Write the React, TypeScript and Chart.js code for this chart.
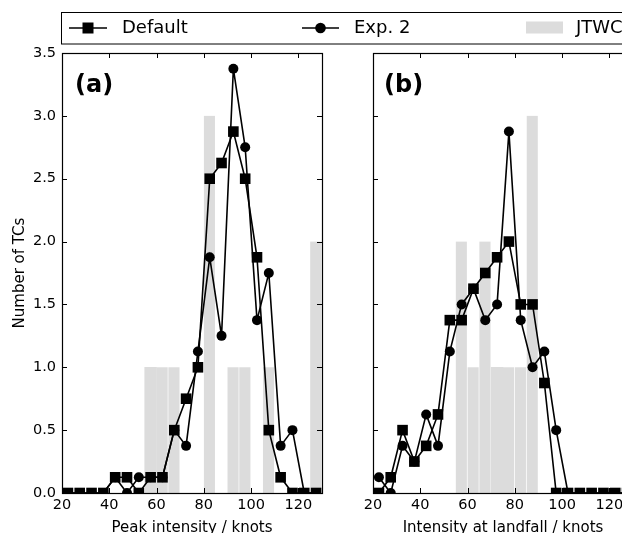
import React, { useEffect, useRef } from 'react';
import { Chart, registerables } from 'chart.js';

Chart.register(...registerables);

// ---------------- data ----------------
const binCenters = [22.5, 27.5, 32.5, 37.5, 42.5, 47.5, 52.5, 57.5, 62.5, 67.5, 72.5, 77.5, 82.5, 87.5, 92.5, 97.5, 102.5, 107.5, 112.5, 117.5, 122.5, 127.5];

const peakDefault = [0, 0, 0, 0, 0.125, 0.125, 0, 0.125, 0.125, 0.5, 0.75, 1.0, 2.5, 2.625, 2.875, 2.5, 1.875, 0.5, 0.125, 0, 0, 0];
const peakExp2 = [0, 0, 0, 0, 0.125, 0, 0.125, 0.125, 0.125, 0.5, 0.375, 1.125, 1.875, 1.25, 3.375, 2.75, 1.375, 1.75, 0.375, 0.5, 0, 0];
const peakJtwc = [0, 0, 0, 0, 0, 0, 0, 1, 1, 1, 0, 0, 3, 0, 1, 1, 0, 1, 0, 0, 0, 2];
const peakJoinedBins = [57.5];

const landDefault = [0, 0.125, 0.5, 0.25, 0.375, 0.625, 1.375, 1.375, 1.625, 1.75, 1.875, 2.0, 1.5, 1.5, 0.875, 0, 0, 0, 0, 0, 0, 0];
const landExp2 = [0.125, 0, 0.375, 0.25, 0.625, 0.375, 1.125, 1.5, 1.625, 1.375, 1.5, 2.875, 1.375, 1.0, 1.125, 0.5, 0, 0, 0, 0, 0, 0];
const landJtwc = [0, 0, 0, 0, 0, 0, 0, 2, 1, 2, 1, 1, 1, 3, 0, 0, 0, 0, 0, 0, 0, 0];
const landJoinedBins = [72.5];

const xTickValues = [20, 40, 60, 80, 100, 120];
const yTickValues = [0, 0.5, 1.0, 1.5, 2.0, 2.5, 3.0, 3.5];

const seriesNames = ['Default', 'Exp. 2', 'JTWC'];
const panelLabels = ['(a)', '(b)'];
const xTitles = ['Peak intensity / knots', 'Intensity at landfall / knots'];
const yTitle = 'Number of TCs';

// ---------------- styles ----------------
const FONT = "'DejaVu Sans', sans-serif";
const GREY = '#dcdcdc';
const CANVAS_W = 650;
const CANVAS_H = 545;

const framePlugin = {
  id: 'frameTicks',
  afterDatasetsDraw(chart: any) {
    const { ctx, chartArea } = chart;
    const { left, right, top, bottom } = chartArea;
    const xs = chart.scales.x;
    const ys = chart.scales.y;
    const tl = 5;
    ctx.save();
    ctx.strokeStyle = '#000';
    ctx.lineWidth = 1;
    ctx.beginPath();
    xs.ticks.forEach((t: any) => {
      const p = Math.round(xs.getPixelForValue(t.value)) + 0.5;
      ctx.moveTo(p, bottom);
      ctx.lineTo(p, bottom - tl);
      ctx.moveTo(p, top);
      ctx.lineTo(p, top + tl);
    });
    ys.ticks.forEach((t: any) => {
      const p = Math.round(ys.getPixelForValue(t.value)) + 0.5;
      ctx.moveTo(left, p);
      ctx.lineTo(left + tl, p);
      ctx.moveTo(right, p);
      ctx.lineTo(right - tl, p);
    });
    ctx.stroke();
    ctx.lineWidth = 1.2;
    ctx.strokeRect(Math.round(left) + 0.5, Math.round(top) + 0.5, Math.round(right - left), Math.round(bottom - top));
    ctx.restore();
  },
  afterDraw(chart: any, _args: any, opts: any) {
    const { ctx, chartArea } = chart;
    if (opts && opts.label) {
      ctx.save();
      ctx.fillStyle = '#000';
      ctx.font = `bold 24px ${FONT}`;
      ctx.textAlign = 'left';
      ctx.textBaseline = 'alphabetic';
      ctx.fillText(opts.label, chartArea.left + opts.dx, chartArea.top + 39);
      ctx.restore();
    }
    if (opts && opts.legend) {
      ctx.save();
      ctx.strokeStyle = '#000';
      ctx.lineWidth = 1;
      ctx.strokeRect(61.5, 12.5, 700, 31.5);
      const cy = 28;
      ctx.font = `18px ${FONT}`;
      ctx.textBaseline = 'middle';
      ctx.fillStyle = '#000';
      ctx.lineWidth = 1.6;
      ctx.beginPath();
      ctx.moveTo(69, cy);
      ctx.lineTo(107, cy);
      ctx.moveTo(302, cy);
      ctx.lineTo(339, cy);
      ctx.stroke();
      ctx.fillRect(88 - 5.5, cy - 5.5, 11, 11);
      ctx.beginPath();
      ctx.arc(320.5, cy, 5.3, 0, Math.PI * 2);
      ctx.fill();
      ctx.fillStyle = GREY;
      ctx.fillRect(526, 21.5, 37, 12);
      ctx.fillStyle = '#000';
      ctx.fillText(seriesNames[0], 122, cy + 0.5);
      ctx.fillText(seriesNames[1], 354, cy + 0.5);
      ctx.fillText(seriesNames[2], 576, cy + 0.5);
      ctx.restore();
    }
  },
};

function makeConfig(panel: number): any {
  const def = panel === 0 ? peakDefault : landDefault;
  const exp = panel === 0 ? peakExp2 : landExp2;
  const jt = panel === 0 ? peakJtwc : landJtwc;
  const joined = panel === 0 ? peakJoinedBins : landJoinedBins;
  const pts = (arr: number[]) => binCenters.map((x, i) => ({ x, y: arr[i] }));
  const padLeft = panel === 0 ? 0 : 373;
  const padRight = panel === 0 ? CANVAS_W - 322 : CANVAS_W - 633;

  return {
    type: 'line',
    data: {
      datasets: [
        {
          type: 'line',
          label: seriesNames[0],
          data: pts(def),
          borderColor: '#000',
          backgroundColor: '#000',
          borderWidth: 1.6,
          pointStyle: 'rect',
          pointRadius: 7.5,
          pointBorderWidth: 0,
          pointBackgroundColor: '#000',
          tension: 0,
          order: 1,
        },
        {
          type: 'line',
          label: seriesNames[1],
          data: pts(exp),
          borderColor: '#000',
          backgroundColor: '#000',
          borderWidth: 1.6,
          pointStyle: 'circle',
          pointRadius: 5,
          pointBorderWidth: 0,
          pointBackgroundColor: '#000',
          tension: 0,
          order: 2,
        },
        {
          type: 'bar',
          label: seriesNames[2],
          data: pts(jt),
          backgroundColor: GREY,
          borderColor: '#ffffff',
          borderWidth: (c: any) => ({
            top: 0,
            left: 0,
            bottom: 0,
            right: joined.includes(binCenters[c.dataIndex]) ? 0 : 1,
          }),
          borderSkipped: 'start',
          barPercentage: 1,
          categoryPercentage: 1,
          order: 3,
        },
      ],
    },
    options: {
      responsive: false,
      animation: false,
      devicePixelRatio: 1,
      layout: { padding: { left: padLeft, right: padRight, top: 53, bottom: 0 } },
      plugins: {
        legend: { display: false },
        tooltip: { enabled: false },
        frameTicks: { label: panelLabels[panel], dx: panel === 0 ? 13 : 11, legend: panel === 0 },
      },
      scales: {
        x: {
          type: 'linear',
          min: 20,
          max: 130,
          offset: false,
          afterBuildTicks: (s: any) => {
            s.ticks = xTickValues.map((v) => ({ value: v }));
          },
          afterFit: (s: any) => {
            s.height = CANVAS_H - 493;
          },
          grid: { display: false, drawTicks: false },
          border: { display: false },
          ticks: {
            color: '#000',
            font: { family: FONT, size: 14.5 },
            padding: 4,
            autoSkip: false,
            maxRotation: 0,
            callback: (v: any) => String(v),
          },
          title: {
            display: true,
            text: xTitles[panel],
            color: '#000',
            font: { family: FONT, size: 15 },
            padding: { top: 0, bottom: 7.5 },
          },
        },
        y: {
          type: 'linear',
          min: 0,
          max: 3.5,
          afterBuildTicks: (s: any) => {
            s.ticks = yTickValues.map((v) => ({ value: v }));
          },
          afterFit: (s: any) => {
            s.width = panel === 0 ? 62 : 0;
          },
          grid: { display: false, drawTicks: false },
          border: { display: false },
          ticks: {
            display: panel === 0,
            color: '#000',
            font: { family: FONT, size: 14.5 },
            padding: 6,
            callback: (v: any) => Number(v).toFixed(1),
          },
          title: {
            display: panel === 0,
            text: yTitle,
            color: '#000',
            font: { family: FONT, size: 15 },
            padding: { top: 11, bottom: 0 },
          },
        },
      },
    },
    plugins: [framePlugin],
  };
}

function Panel({ panel }: { panel: number }) {
  const ref = useRef<HTMLCanvasElement | null>(null);
  useEffect(() => {
    if (!ref.current) return;
    const chart = new Chart(ref.current, makeConfig(panel));
    return () => chart.destroy();
  }, [panel]);
  return (
    <canvas
      ref={ref}
      width={CANVAS_W}
      height={CANVAS_H}
      style={{ position: 'absolute', left: 0, top: 0, width: CANVAS_W, height: CANVAS_H }}
    />
  );
}

export default function App() {
  return (
    <div
      style={{
        position: 'fixed',
        left: 0,
        top: 0,
        width: 622,
        height: 533,
        overflow: 'hidden',
        background: '#fff',
      }}
    >
      <Panel panel={0} />
      <Panel panel={1} />
    </div>
  );
}
